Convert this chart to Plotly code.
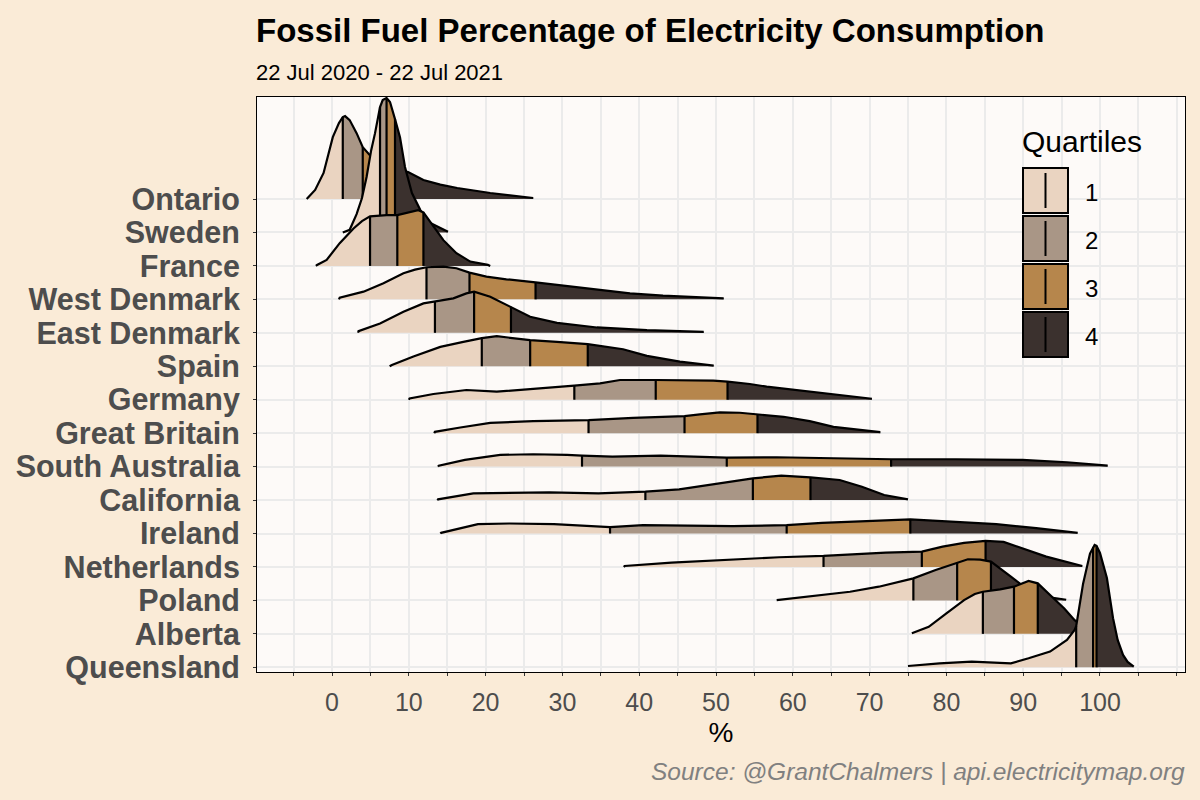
import plotly.graph_objects as go

# ---------------- data ----------------
regions = ["Queensland", "Alberta", "Poland", "Netherlands", "Ireland", "California",
           "South Australia", "Great Britain", "Germany", "Spain", "East Denmark",
           "West Denmark", "France", "Sweden", "Ontario"]

x_ticks = [0, 10, 20, 30, 40, 50, 60, 70, 80, 90, 100]
quartile_labels = ["1", "2", "3", "4"]
quartile_colors = ["#EAD4C1", "#A99686", "#B6864C", "#3B312E"]

ontario_x = [-3.3, -2.2, -1.1, 0.1, 0.9, 1.4, 1.7, 2.3, 3.2, 4.0, 4.9, 6.2, 7.3, 8.2, 9.9, 11.9, 14.1, 16.3, 20.6, 26.2]
ontario_h = [0.0, 0.27, 0.78, 1.85, 2.27, 2.45, 2.48, 2.36, 1.97, 1.55, 1.32, 1.08, 0.96, 0.9, 0.81, 0.57, 0.43, 0.33, 0.18, 0.03]
ontario_q = [1.4, 4.0, 7.3]

sweden_x = [1.4, 2.3, 3.2, 3.9, 4.5, 5.1, 5.6, 6.25, 6.6, 7.1, 7.55, 8.0, 8.2, 8.85, 9.5, 10.4, 11.5, 12.8, 14.1, 15.1]
sweden_h = [0.0, 0.08, 0.55, 1.03, 1.66, 2.46, 2.97, 3.75, 3.96, 4.02, 3.9, 3.57, 3.39, 2.85, 1.96, 1.18, 0.67, 0.28, 0.13, 0.02]
sweden_q = [6.25, 7.1, 8.2]

france_x = [-2.1, -1.95, -0.7, 1.0, 2.8, 3.9, 4.95, 7.1, 8.5, 10.2, 11.2, 11.9, 12.8, 14.5, 16.2, 18.0, 20.3, 20.6]
france_h = [0.0, 0.03, 0.18, 0.68, 1.12, 1.34, 1.48, 1.52, 1.52, 1.61, 1.67, 1.6, 1.3, 0.77, 0.38, 0.13, 0.03, 0.0]
france_q = [4.95, 8.5, 11.9]

westdk_x = [0.9, 1.0, 4.1, 6.7, 9.3, 10.8, 12.3, 14.5, 16.2, 17.9, 20.1, 22.7, 26.5, 30.1, 34.5, 38.8, 43.1, 47.9, 51.0]
westdk_h = [0.0, 0.05, 0.23, 0.48, 0.78, 0.89, 0.96, 0.98, 0.93, 0.8, 0.68, 0.6, 0.51, 0.41, 0.28, 0.18, 0.11, 0.06, 0.03]
westdk_q = [12.3, 17.9, 26.5]

eastdk_x = [3.4, 3.45, 6.25, 9.3, 11.9, 13.4, 15.8, 17.5, 18.5, 20.6, 23.3, 25.8, 29.3, 34.5, 41.0, 48.4]
eastdk_h = [0.0, 0.05, 0.28, 0.63, 0.88, 0.93, 1.03, 1.18, 1.23, 1.08, 0.78, 0.48, 0.3, 0.16, 0.08, 0.03]
eastdk_q = [13.4, 18.5, 23.3]

spain_x = [7.5, 7.8, 10.6, 14.1, 17.1, 19.5, 21.45, 24.05, 25.8, 29.3, 33.3, 37.9, 41.0, 45.3, 49.7]
spain_h = [0.0, 0.04, 0.29, 0.58, 0.73, 0.84, 0.9, 0.84, 0.78, 0.73, 0.66, 0.51, 0.31, 0.14, 0.02]
spain_q = [19.5, 25.8, 33.3]

germany_x = [10.0, 10.1, 13.2, 17.5, 21.45, 26.2, 31.55, 34.9, 37.5, 42.15, 46.6, 49.65, 51.5, 54.4, 56.6, 60.9, 65.3, 70.3]
germany_h = [0.0, 0.04, 0.17, 0.29, 0.24, 0.32, 0.42, 0.49, 0.59, 0.59, 0.59, 0.57, 0.54, 0.47, 0.39, 0.27, 0.16, 0.03]
germany_q = [31.55, 42.15, 51.5]

gb_x = [13.3, 13.4, 16.7, 20.6, 26.2, 31.0, 33.4, 39.2, 45.9, 47.9, 50.5, 53.1, 55.4, 58.8, 62.2, 65.3, 71.4]
gb_h = [0.0, 0.04, 0.17, 0.31, 0.36, 0.39, 0.39, 0.46, 0.51, 0.56, 0.62, 0.61, 0.57, 0.49, 0.36, 0.19, 0.03]
gb_q = [33.4, 45.9, 55.4]

sa_x = [13.8, 13.9, 17.3, 21.9, 26.2, 28.9, 30.6, 32.55, 36.5, 42.8, 46.3, 51.4, 57.9, 63.8, 72.8, 81.2, 89.9, 95.7, 101.0]
sa_h = [0.0, 0.03, 0.2, 0.35, 0.37, 0.37, 0.35, 0.33, 0.3, 0.33, 0.3, 0.27, 0.28, 0.26, 0.22, 0.22, 0.2, 0.13, 0.03]
sa_q = [32.55, 51.4, 72.8]

california_x = [13.7, 13.8, 18.4, 23.1, 28.3, 34.7, 40.8, 45.2, 51.0, 54.8, 58.5, 62.3, 66.1, 69.0, 71.9, 75.0]
california_h = [0.0, 0.02, 0.2, 0.22, 0.23, 0.2, 0.25, 0.32, 0.52, 0.65, 0.73, 0.68, 0.6, 0.4, 0.15, 0.02]
california_q = [40.8, 54.8, 62.3]

ireland_x = [14.1, 14.2, 19.0, 23.1, 28.9, 36.2, 40.5, 46.3, 52.2, 59.2, 63.8, 69.6, 75.3, 81.2, 86.5, 91.7, 97.1]
ireland_h = [0.0, 0.02, 0.28, 0.3, 0.28, 0.19, 0.25, 0.23, 0.22, 0.25, 0.32, 0.37, 0.42, 0.35, 0.28, 0.16, 0.02]
ireland_q = [36.2, 59.2, 75.3]

netherlands_x = [38.0, 38.1, 44.2, 51.2, 58.2, 64.0, 72.1, 76.8, 79.5, 82.3, 85.1, 87.45, 89.8, 93.0, 97.7]
netherlands_h = [0.0, 0.03, 0.13, 0.21, 0.29, 0.33, 0.43, 0.46, 0.61, 0.72, 0.78, 0.75, 0.56, 0.31, 0.03]
netherlands_q = [64.0, 76.8, 85.1]

poland_x = [57.9, 62.8, 67.45, 71.2, 75.7, 78.6, 81.4, 82.8, 84.4, 85.8, 88.4, 90.7, 93.0, 95.6]
poland_h = [0.01, 0.13, 0.26, 0.41, 0.66, 0.91, 1.13, 1.23, 1.22, 1.16, 0.71, 0.31, 0.11, 0.02]
poland_q = [75.7, 81.4, 85.8]

alberta_x = [75.5, 77.7, 80.0, 82.3, 83.7, 84.75, 87.0, 88.8, 90.7, 91.9, 93.5, 95.35, 96.7, 98.05, 99.35, 100.0]
alberta_h = [0.02, 0.21, 0.61, 1.01, 1.19, 1.26, 1.33, 1.41, 1.58, 1.51, 1.16, 0.76, 0.41, 0.17, 0.04, 0.0]
alberta_q = [84.75, 88.8, 91.9]

queensland_x = [75.0, 79.1, 83.3, 86.0, 88.4, 90.7, 93.5, 95.7, 96.7, 96.9, 97.8, 98.7, 99.1, 99.3, 99.55, 100.0, 100.9, 101.7, 102.3, 103.0, 103.6, 104.4]
queensland_h = [0.04, 0.12, 0.17, 0.14, 0.12, 0.27, 0.47, 0.82, 1.12, 1.23, 2.5, 3.4, 3.6, 3.66, 3.63, 3.42, 2.67, 1.47, 0.82, 0.37, 0.16, 0.02]
queensland_q = [96.9, 99.1, 99.55]

ridges = {
    "Ontario": (ontario_x, ontario_h, ontario_q),
    "Sweden": (sweden_x, sweden_h, sweden_q),
    "France": (france_x, france_h, france_q),
    "West Denmark": (westdk_x, westdk_h, westdk_q),
    "East Denmark": (eastdk_x, eastdk_h, eastdk_q),
    "Spain": (spain_x, spain_h, spain_q),
    "Germany": (germany_x, germany_h, germany_q),
    "Great Britain": (gb_x, gb_h, gb_q),
    "South Australia": (sa_x, sa_h, sa_q),
    "California": (california_x, california_h, california_q),
    "Ireland": (ireland_x, ireland_h, ireland_q),
    "Netherlands": (netherlands_x, netherlands_h, netherlands_q),
    "Poland": (poland_x, poland_h, poland_q),
    "Alberta": (alberta_x, alberta_h, alberta_q),
    "Queensland": (queensland_x, queensland_h, queensland_q),
}

# ---------------- figure ----------------
fig = go.Figure()
OUTLINE = "#000000"

# draw from the top ridge down so lower ridges overlap upper ones
for name in reversed(regions):
    xs, hs, qs = ridges[name]
    base = regions.index(name)
    bounds = [xs[0]] + qs + [xs[-1]]
    for k in range(4):
        lo, hi = bounds[k], bounds[k + 1]
        idx = [i for i, v in enumerate(xs) if lo <= v <= hi]
        sx = [xs[i] for i in idx]
        sy = [base + hs[i] for i in idx]
        fig.add_trace(go.Scatter(
            x=sx + [sx[-1], sx[0]], y=sy + [base, base],
            fill="toself", fillcolor=quartile_colors[k], mode="lines",
            line=dict(width=0, color=quartile_colors[k]),
            showlegend=False, hoverinfo="skip"))
    qx, qy = [], []
    for q in qs:
        i = xs.index(q)
        qx += [q, q, None]
        qy += [base, base + hs[i], None]
    fig.add_trace(go.Scatter(x=qx, y=qy, mode="lines",
                             line=dict(color=OUTLINE, width=2.2),
                             showlegend=False, hoverinfo="skip"))
    fig.add_trace(go.Scatter(x=xs, y=[base + h for h in hs], mode="lines",
                             line=dict(color=OUTLINE, width=2.2),
                             showlegend=False, name=name))

# ---------------- layout ----------------
L, R, T, B = 257, 1185, 97, 672
W, H = 1200, 800
PW, PH = R - L, B - T

def px(xp):
    return (xp - L) / PW

def py(yp):
    return (B - yp) / PH

GRID = "#EBEBEB"
fig.update_layout(
    width=W, height=H,
    margin=dict(l=L, r=W - R, t=T, b=H - B),
    paper_bgcolor="#FAEBD7",
    plot_bgcolor="#FDFAF8",
    font=dict(family="Liberation Sans, Arial, sans-serif"),
    showlegend=False,
)
fig.update_xaxes(
    range=[-9.77, 111.07],
    tickmode="array", tickvals=x_ticks, ticktext=[str(v) for v in x_ticks],
    tickfont=dict(size=25, color="#4D4D4D"),
    ticks="outside", ticklen=3, tickcolor="#333333",
    ticklabelstandoff=5,
    showgrid=True, gridcolor=GRID, gridwidth=2,
    minor=dict(dtick=5, tick0=0, showgrid=True, gridcolor=GRID, gridwidth=2,
               ticks="outside", ticklen=3, tickcolor="#333333"),
    zeroline=False,
    showline=True, linecolor="#000000", linewidth=1, mirror=True,
    title=dict(text="%", font=dict(size=28, color="#000000"), standoff=7),
)
fig.update_yaxes(
    range=[-0.14, 17.05],
    tickmode="array", tickvals=list(range(len(regions))), ticktext=regions,
    tickfont=dict(size=30.5, color="#4D4D4D", weight="bold"),
    ticks="outside", ticklen=3, tickcolor="#333333",
    ticklabelstandoff=7,
    showgrid=True, gridcolor=GRID, gridwidth=2,
    zeroline=False,
    showline=True, linecolor="#000000", linewidth=1, mirror=True,
)

# titles
fig.add_annotation(text="Fossil Fuel Percentage of Electricity Consumption",
                   xref="paper", yref="paper", x=px(254), y=py(30),
                   xanchor="left", yanchor="middle", showarrow=False,
                   font=dict(size=33, color="#000000", weight="bold"))
fig.add_annotation(text="22 Jul 2020 - 22 Jul 2021",
                   xref="paper", yref="paper", x=px(254), y=py(72),
                   xanchor="left", yanchor="middle", showarrow=False,
                   font=dict(size=22, color="#000000"))
fig.add_annotation(text="Source: @GrantChalmers | api.electricitymap.org",
                   xref="paper", yref="paper", x=px(1187), y=py(772),
                   xanchor="right", yanchor="middle", showarrow=False,
                   font=dict(size=24.5, color="#808080", style="italic"))

# legend (drawn manually)
fig.add_annotation(text="Quartiles", xref="paper", yref="paper",
                   x=px(1020), y=py(141), xanchor="left", yanchor="middle",
                   showarrow=False, font=dict(size=30, color="#000000"))
box_tops = [168, 216, 264, 312]
for k, lab in enumerate(quartile_labels):
    y0, y1 = box_tops[k], box_tops[k] + 45
    fig.add_shape(type="rect", xref="paper", yref="paper",
                  x0=px(1023), x1=px(1068), y0=py(y1), y1=py(y0),
                  fillcolor=quartile_colors[k], line=dict(color="#000000", width=2))
    fig.add_shape(type="line", xref="paper", yref="paper",
                  x0=px(1045.5), x1=px(1045.5), y0=py(y1 - 5), y1=py(y0 + 5),
                  line=dict(color="#000000", width=2))
    fig.add_annotation(text=lab, xref="paper", yref="paper",
                       x=px(1091), y=py((y0 + y1) / 2 + 1.5), xanchor="center", yanchor="middle",
                       showarrow=False, font=dict(size=24, color="#000000"))

fig.write_html("out.html")
